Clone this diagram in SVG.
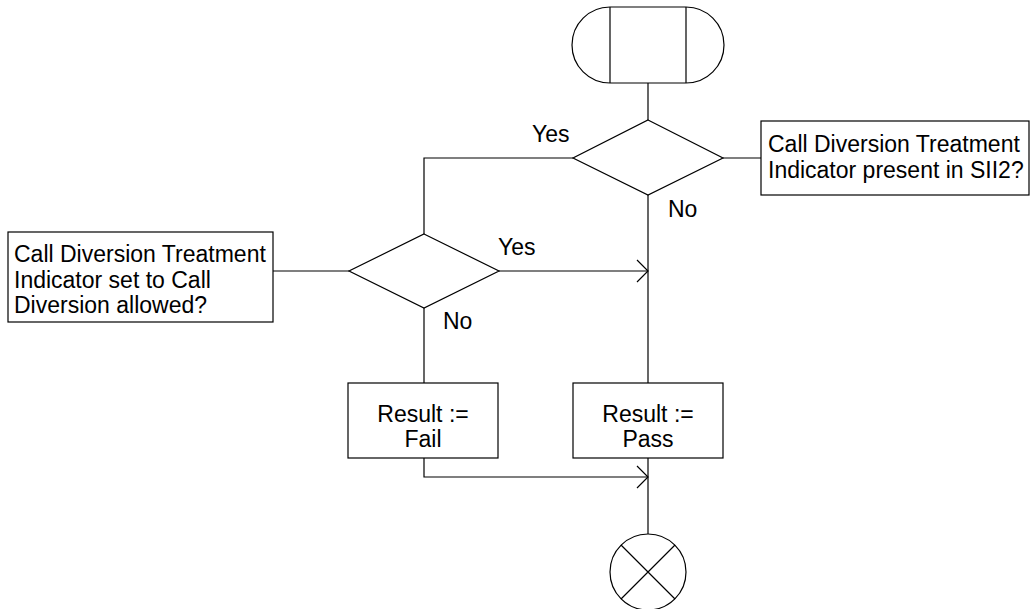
<svg xmlns="http://www.w3.org/2000/svg" width="1030" height="609" viewBox="0 0 1030 609">
<style>
.s{fill:#fff;stroke:#000;stroke-width:1.2}
.l{fill:none;stroke:#000;stroke-width:1.2}
.t{font-family:"Liberation Sans",Arial,sans-serif;font-size:23px;fill:#000}
.c{text-anchor:middle}
</style>
<defs>
<marker id="arr" markerUnits="userSpaceOnUse" markerWidth="14" markerHeight="26" refX="12" refY="12" orient="auto">
<path d="M1,1 L12,12 L1,23" fill="none" stroke="#000" stroke-width="1.2"/>
</marker>
</defs>
<rect width="1030" height="609" fill="#fff"/>
<g id="connectors">
<path class="l" d="M648,83 V120"/>
<path class="l" d="M723,158 H761"/>
<path class="l" d="M573,158 H424 V234"/>
<path class="l" d="M273,271 H349"/>
<path class="l" d="M499,271 H648" marker-end="url(#arr)"/>
<path class="l" d="M648,195 V383"/>
<path class="l" d="M424,308 V383"/>
<path class="l" d="M424,458 V477 H648" marker-end="url(#arr)"/>
<path class="l" d="M648,458 V534"/>
<text class="t" x="532" y="142">Yes</text>
<text class="t" x="668" y="217">No</text>
<text class="t" x="498" y="255">Yes</text>
<text class="t" x="443" y="329">No</text>
</g>
<g id="start">
<path class="s" d="M610,7 H686 A38,38 0 0 1 686,83 H610 A38,38 0 0 1 610,7 Z"/>
<path class="l" d="M610,7 V83 M686,7 V83"/>
</g>
<g id="decision1">
<path class="s" d="M648,120 L723,158 L648,195 L573,158 Z"/>
</g>
<g id="comment1">
<rect class="s" x="761" y="121" width="268" height="74"/>
<text class="t" x="768" y="152">Call Diversion Treatment</text>
<text class="t" x="768" y="178">Indicator present in SII2?</text>
</g>
<g id="decision2">
<path class="s" d="M424,234 L499,271 L424,308 L349,271 Z"/>
</g>
<g id="comment2">
<rect class="s" x="8" y="232" width="265" height="90"/>
<text class="t" x="14" y="262">Call Diversion Treatment</text>
<text class="t" x="14" y="288">Indicator set to Call</text>
<text class="t" x="14" y="313">Diversion allowed?</text>
</g>
<g id="fail">
<rect class="s" x="348" y="383" width="150" height="75"/>
<text class="t c" x="423" y="422">Result :=</text>
<text class="t c" x="423" y="447">Fail</text>
</g>
<g id="pass">
<rect class="s" x="573" y="383" width="150" height="75"/>
<text class="t c" x="648" y="422">Result :=</text>
<text class="t c" x="648" y="447">Pass</text>
</g>
<g id="end">
<circle class="s" cx="648" cy="572" r="38"/>
<path class="l" d="M621,545 L675,599 M675,545 L621,599"/>
</g>
</svg>
